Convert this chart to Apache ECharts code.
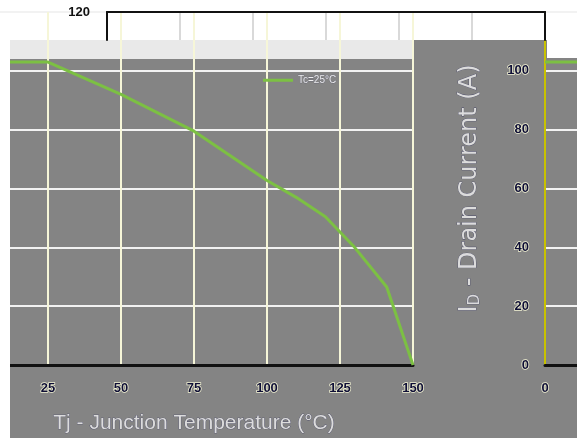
<!DOCTYPE html>
<html>
<head>
<meta charset="utf-8">
<script src="https://cdn.jsdelivr.net/npm/echarts@6/dist/echarts.min.js"></script>
<style>
  html, body { margin: 0; padding: 0; background: #fff; }
  #chart { width: 577px; height: 438px; }
</style>
</head>
<body>
<div id="chart"></div>
<script>
// 读图数据
var temps = [0, 25, 50, 75, 100, 110, 120, 130, 141, 150];
var currents = [103, 103, 92, 79.5, 62.7, 57, 50.4, 40, 26.5, 0];
var xTicks = [0, 150, 25];   // min, max, interval
var yTicks = [0, 120, 20];
var seriesName = "Tc=25°C";

var lineData = temps.map(function(t, i) {
  return [t, currents[i]];
});

var labelFont = {
  color: "#0e0e36",
  fontSize: 13,
  fontWeight: "bold",
  fontFamily: "Liberation Sans, Arial",
  textBorderColor: "rgba(255,255,220,0.9)",
  textBorderWidth: 1.5
};

var chart = echarts.init(document.getElementById("chart"));

var option = {
  backgroundColor: "#ffffff",
  animation: false,
  graphic: [
    { type: "rect", z: 1, shape: { x: 10, y: 40, width: 567, height: 398 }, style: { fill: "#848484" } },
    { type: "rect", z: 1, shape: { x: 10, y: 40, width: 403, height: 19 }, style: { fill: "#e9e9e9" } },
    { type: "rect", z: 1, shape: { x: 547, y: 40, width: 30, height: 18 }, style: { fill: "#ffffff" } },
    { type: "rect", z: 20, shape: { x: 0, y: 40, width: 10, height: 398 }, style: { fill: "#ffffff" } }
  ],
  legend: {
    data: [{ name: seriesName, icon: "rect" }],
    left: 258,
    top: 70,
    z: 6,
    itemWidth: 30,
    itemHeight: 3,
    itemGap: 4,
    textStyle: {
      color: "#eeeeee",
      fontSize: 10,
      fontFamily: "Liberation Sans, Arial",
      textBorderColor: "#5a5a70",
      textBorderWidth: 0.5
    }
  },
  grid: [
    { left: -25, top: 12, width: 438, height: 353, outerBoundsMode: "none", containLabel: false },
    { left: 545, top: 12, width: 438, height: 353, outerBoundsMode: "none", containLabel: false },
    { left: 107, top: 12, width: 438, height: 28, outerBoundsMode: "none", containLabel: false }
  ],
  xAxis: [
    {
      type: "value",
      gridIndex: 0,
      z: 3,
      min: xTicks[0],
      max: xTicks[1],
      interval: xTicks[2],
      name: "Tj - Junction Temperature (°C)",
      nameLocation: "middle",
      nameGap: 48,
      nameTextStyle: {
        color: "#dcdcdc",
        fontSize: 21,
        fontFamily: "Liberation Sans, Arial",
        textBorderColor: "#4a4a6a",
        textBorderWidth: 0.6
      },
      axisLine: { lineStyle: { color: "#111111", width: 3 } },
      axisTick: { show: false },
      axisLabel: Object.assign({ margin: 17 }, labelFont),
      splitLine: { show: true, lineStyle: { color: "#f6f6d8", width: 2 } }
    },
    {
      type: "value",
      gridIndex: 1,
      z: 3,
      min: xTicks[0],
      max: xTicks[1],
      interval: xTicks[2],
      axisLine: { lineStyle: { color: "#111111", width: 3 } },
      axisTick: { show: false },
      axisLabel: Object.assign({ margin: 17 }, labelFont),
      splitLine: { show: true, lineStyle: { color: "#f6f6d8", width: 2 } }
    },
    {
      type: "value",
      gridIndex: 2,
      position: "top",
      z: 5,
      min: xTicks[0],
      max: xTicks[1],
      interval: xTicks[2],
      axisLine: { lineStyle: { color: "#111111", width: 2 } },
      axisTick: { show: false },
      axisLabel: { show: false },
      splitLine: { show: true, lineStyle: { color: "#d9d9d9", width: 2 } }
    }
  ],
  yAxis: [
    {
      type: "value",
      gridIndex: 0,
      position: "right",
      z: 3,
      min: yTicks[0],
      max: yTicks[1],
      interval: yTicks[2],
      axisLine: { show: false },
      axisTick: { show: false },
      axisLabel: { show: false },
      splitLine: { show: true, lineStyle: { color: "#f2f2f2", width: 2 } }
    },
    {
      type: "value",
      gridIndex: 1,
      position: "left",
      z: 3,
      min: yTicks[0],
      max: yTicks[1],
      interval: yTicks[2],
      name: "{i|I}{s|D}{i| - Drain Current (A)}",
      nameLocation: "middle",
      nameGap: 62,
      nameRotate: 90,
      nameTextStyle: {
        rich: {
          i: {
            color: "#dcdcdc",
            fontSize: 24,
            fontFamily: "DejaVu Sans, Verdana",
            textBorderColor: "#4a4a6a",
            textBorderWidth: 0.6
          },
          s: {
            color: "#dcdcdc",
            fontSize: 15,
            fontFamily: "DejaVu Sans, Verdana",
            padding: [12, 0, 0, 0],
            textBorderColor: "#4a4a6a",
            textBorderWidth: 0.6
          }
        }
      },
      axisLine: { show: true, lineStyle: { color: "#c8c200", width: 2 } },
      axisTick: { show: false },
      axisLabel: Object.assign({ margin: 16, showMaxLabel: false }, labelFont),
      splitLine: { show: true, lineStyle: { color: "#f2f2f2", width: 2 } }
    },
    {
      type: "value",
      gridIndex: 2,
      position: "left",
      z: 5,
      min: 110,
      max: 120,
      interval: 10,
      axisLine: { show: true, lineStyle: { color: "#111111", width: 2 } },
      axisTick: { show: false },
      axisLabel: {
        showMinLabel: false,
        margin: 17,
        color: "#111111",
        fontSize: 13,
        fontWeight: "bold",
        fontFamily: "Liberation Sans, Arial"
      },
      splitLine: { show: false }
    },
    {
      type: "value",
      gridIndex: 2,
      position: "right",
      z: 5,
      min: 110,
      max: 120,
      interval: 10,
      axisLine: { show: true, lineStyle: { color: "#111111", width: 2 } },
      axisTick: { show: false },
      axisLabel: { show: false },
      splitLine: { show: false }
    }
  ],
  series: [
    {
      name: seriesName,
      type: "line",
      xAxisIndex: 0,
      yAxisIndex: 0,
      z: 4,
      symbol: "none",
      data: lineData,
      lineStyle: { color: "#7cc043", width: 3 },
      itemStyle: { color: "#7cc043" }
    },
    {
      name: seriesName + " ",
      type: "line",
      xAxisIndex: 1,
      yAxisIndex: 1,
      z: 4,
      symbol: "none",
      data: lineData,
      lineStyle: { color: "#7cc043", width: 3 },
      itemStyle: { color: "#7cc043" }
    }
  ]
};

chart.setOption(option);
</script>
</body>
</html>
